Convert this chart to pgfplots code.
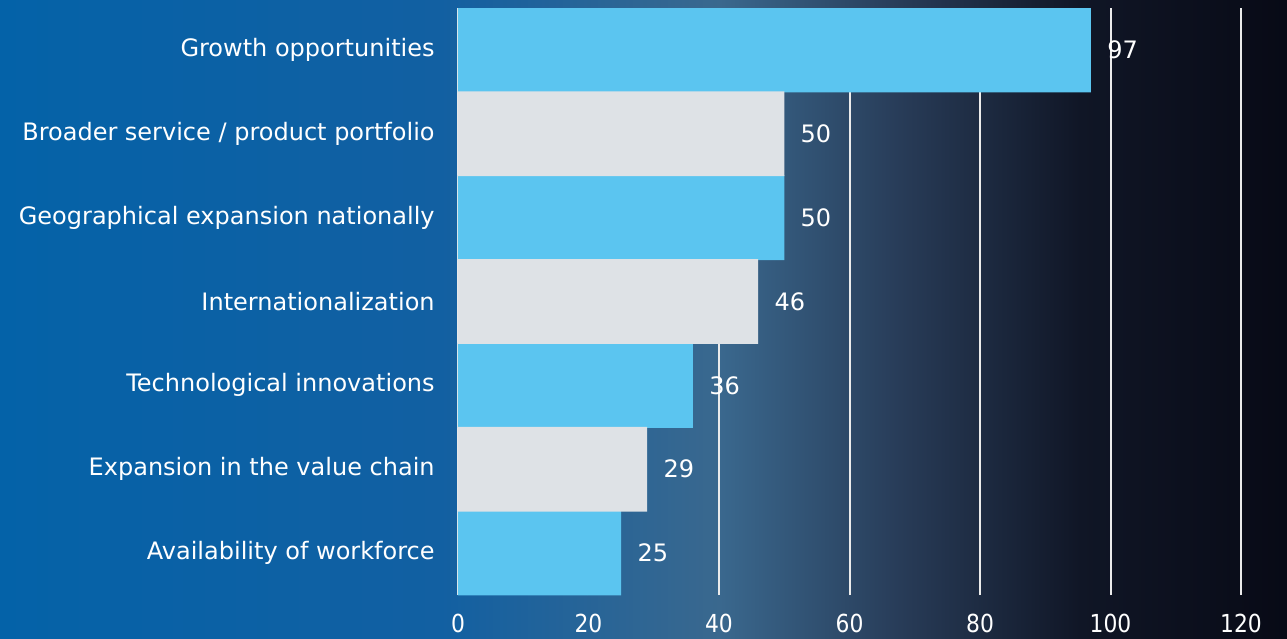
\documentclass[border=0pt]{standalone}
\usepackage{pgfplots}
\pgfplotsset{compat=1.18}
\usepackage{fontspec}
\setmainfont{DejaVu Sans}
\newfontfamily\condfont[FakeStretch=0.88]{DejaVu Sans}
\definecolor{barblue}{RGB}{91,197,240}
\definecolor{bargrey}{RGB}{222,226,230}
\definecolor{bgA}{RGB}{4,98,168}
\definecolor{bgB}{RGB}{18,96,162}
\definecolor{bgC}{RGB}{58,104,142}
\definecolor{bgD}{RGB}{40,60,88}
\definecolor{bgE}{RGB}{16,22,38}
\definecolor{bgF}{RGB}{8,10,22}
\begin{document}
\begin{tikzpicture}[x=1bp,y=1bp]
% background (1px = 0.5bp; axis origin at px (458,595))
\useasboundingbox (-229,-21.5) rectangle (414.5,297.5);
\fill[left color=bgA,right color=bgB] (-229,-21.5) rectangle (-9,297.5);
\fill[left color=bgB,right color=bgC] (-9.1,-21.5) rectangle (131,297.5);
\fill[left color=bgC,right color=bgD] (130.9,-21.5) rectangle (221,297.5);
\fill[left color=bgD,right color=bgE] (220.9,-21.5) rectangle (311,297.5);
\fill[left color=bgE,right color=bgF] (310.9,-21.5) rectangle (414.5,297.5);
\begin{axis}[
  at={(0,0)}, anchor=south west,
  scale only axis,
  width=391.5bp, height=293.5bp,
  xmin=0, xmax=120,
  ymin=-0.5, ymax=6.5,
  xtick={0,20,40,60,80,100,120},
  ytick={0,1,2,3,4,5,6},
  yticklabels={Availability of workforce,Expansion in the value chain,Technological innovations,Internationalization,Geographical expansion nationally,Broader service / product portfolio,Growth opportunities},
  major tick length=0pt,
  axis line style={draw=none},
  xmajorgrids,
  grid style={white!92!black, line width=1bp},
  /pgf/number format/assume math mode=true,
  yticklabel style={font=\fontsize{12bp}{14bp}\selectfont, text=white, inner sep=0pt, xshift=-11.5bp},
  xticklabel style={font=\condfont\fontsize{12.4bp}{14bp}\selectfont, text=white, inner sep=0pt, anchor=north, yshift=-9.5bp},
  xbar, bar shift=0pt, bar width=42.4bp,
  nodes near coords,
  every node near coord/.append style={font=\fontsize{12bp}{14bp}\selectfont, text=white, anchor=west, inner sep=0pt, xshift=8bp},
]
\addplot[draw=none, fill=barblue] coordinates {(97,6) (50,4) (36,2) (25,0)};
\addplot[draw=none, fill=bargrey] coordinates {(50,5) (46,3) (29,1)};
\end{axis}
\end{tikzpicture}
\end{document}
